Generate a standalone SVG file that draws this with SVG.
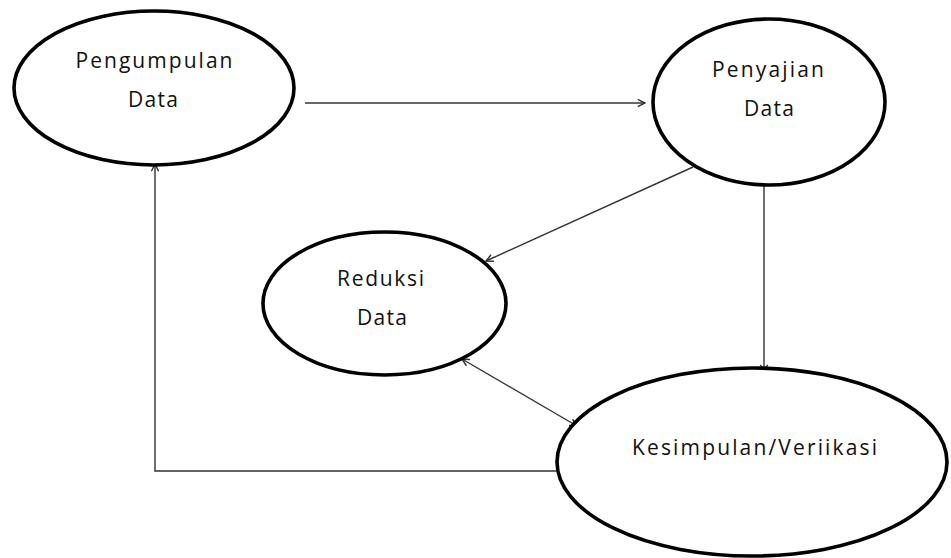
<svg xmlns="http://www.w3.org/2000/svg" width="951" height="558" viewBox="0 0 951 558">
<style>
.node ellipse{fill:#fff;stroke:#000;stroke-width:3.6}
.node text{font-family:"Open Sans","Noto Sans","DejaVu Sans",sans-serif;font-size:21px;fill:#111;text-anchor:middle}
.conn path,.conn line{fill:none;stroke:#333;stroke-width:1.4}
</style>
<defs>
<marker id="arr" viewBox="0 0 10 10" refX="9" refY="5" markerWidth="9" markerHeight="9" markerUnits="userSpaceOnUse" orient="auto-start-reverse">
<path d="M1,1 L9,5 L1,9" fill="none" stroke="#333" stroke-width="1.6"/>
</marker>
</defs>
<rect width="951" height="558" fill="#fff"/>
<g id="connectors" class="conn">
<line x1="305" y1="103" x2="645" y2="103" marker-end="url(#arr)"/>
<line x1="693" y1="167" x2="486" y2="261" marker-end="url(#arr)"/>
<line x1="764" y1="178" x2="764" y2="372" marker-end="url(#arr)"/>
<line x1="462" y1="359" x2="577" y2="426" marker-start="url(#arr)" marker-end="url(#arr)"/>
<path d="M556,471 H155 V164" marker-end="url(#arr)"/>
</g>
<g id="pengumpulan" class="node">
<ellipse cx="154" cy="88" rx="140" ry="77"/>
<text x="154" y="68" textLength="157" lengthAdjust="spacing">Pengumpulan</text>
<text x="153" y="107" textLength="50" lengthAdjust="spacing">Data</text>
</g>
<g id="penyajian" class="node">
<ellipse cx="769" cy="102" rx="116" ry="83"/>
<text x="768" y="77" textLength="112" lengthAdjust="spacing">Penyajian</text>
<text x="769" y="116" textLength="50" lengthAdjust="spacing">Data</text>
</g>
<g id="reduksi" class="node">
<ellipse cx="384.5" cy="303.5" rx="121.5" ry="71.5"/>
<text x="380.5" y="286" textLength="87" lengthAdjust="spacing">Reduksi</text>
<text x="382" y="325" textLength="50" lengthAdjust="spacing">Data</text>
</g>
<g id="kesimpulan" class="node">
<ellipse cx="752" cy="462" rx="195" ry="94"/>
<text x="754.5" y="455" textLength="245" lengthAdjust="spacing">Kesimpulan/Veriikasi</text>
</g>
</svg>
